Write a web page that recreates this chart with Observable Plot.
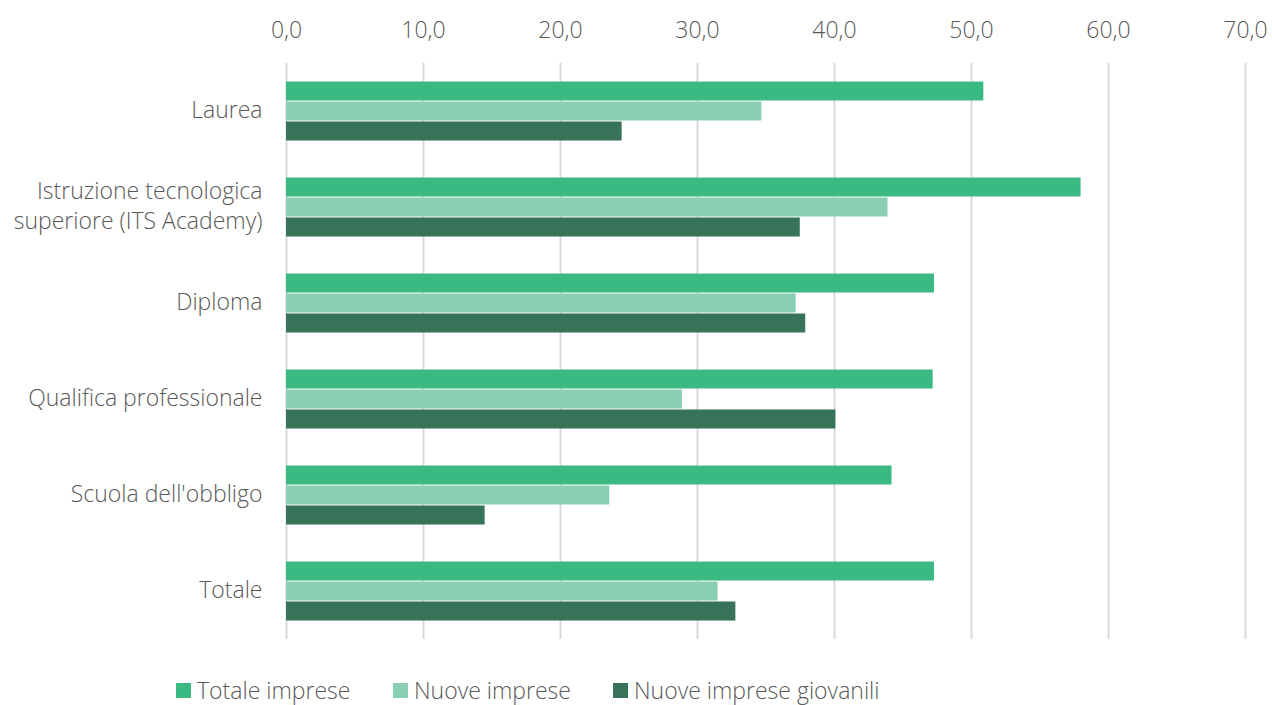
<!DOCTYPE html>
<html>
<head>
<meta charset="utf-8">
<script src="https://cdn.jsdelivr.net/npm/d3@7"></script>
<script src="https://cdn.jsdelivr.net/npm/@observablehq/plot@0.6"></script>
<style>
  body { margin: 0; background: #fff; font-family: "Open Sans", sans-serif; }
  #wrap { position: relative; width: 1272px; height: 705px; }
  #legend { position: absolute; left: 176px; top: 690px; font-size: 23px; color: #595959; font-weight: 300; }
  .item { display: flex; align-items: center; position: absolute; top: -16px; white-space: nowrap; }
  .sw { width: 15px; height: 15px; margin-right: 6px; }
</style>
</head>
<body>
<div id="wrap"><div id="chart"></div><div id="legend"></div></div>
<script>
const categories = ["Laurea", "Istruzione tecnologica superiore (ITS Academy)", "Diploma", "Qualifica professionale", "Scuola dell'obbligo", "Totale"];
const categoryLabels = ["Laurea", "Istruzione tecnologica\nsuperiore (ITS Academy)", "Diploma", "Qualifica professionale", "Scuola dell'obbligo", "Totale"];
const series = ["Totale imprese", "Nuove imprese", "Nuove imprese giovanili"];
const totaleImprese = [50.9, 58.0, 47.3, 47.2, 44.2, 47.3];
const nuoveImprese = [34.7, 43.9, 37.2, 28.9, 23.6, 31.5];
const nuoveImpreseGiovanili = [24.5, 37.5, 37.9, 40.1, 14.5, 32.8];
const xTicks = [0, 10, 20, 30, 40, 50, 60, 70];
const colors = ["#3ab983", "#88cfb4", "#377359"];
const legendLeft = [176, 393, 613];

const values = [totaleImprese, nuoveImprese, nuoveImpreseGiovanili];
const data = categories.flatMap((c, i) => series.map((s, j) => ({cat: c, s, v: values[j][i]})));
const fmt = d => d.toFixed(1).replace(".", ",");
const labelOf = d => categoryLabels[categories.indexOf(d)];

const chart = Plot.plot({
  width: 1272, height: 655,
  marginLeft: 286, marginRight: 27, marginTop: 62, marginBottom: 15,
  style: {fontFamily: "'Open Sans', sans-serif", fontSize: "20px", color: "#595959", background: "#fff", fontWeight: 300},
  x: {domain: [0, 70], label: null},
  fy: {domain: categories, padding: 0, label: null},
  y: {domain: series, axis: null, paddingInner: 0, paddingOuter: 0.9},
  color: {domain: series, range: colors},
  marks: [
    Plot.ruleX(xTicks, {x: d => d, stroke: "#d9d9d9", strokeWidth: 2}),
    Plot.barX(data, {x: "v", y: "s", fy: "cat", fill: "s", insetTop: 0.5, insetBottom: 0.5}),
    Plot.axisX({anchor: "top", ticks: xTicks, tickFormat: fmt, tickSize: 0, tickPadding: 26, label: null, fontSize: 23}),
    Plot.axisFy({anchor: "left", tickSize: 0, tickPadding: 24, label: null, tickFormat: labelOf, lineHeight: 1.32, fontSize: 23, dy: -3})
  ]
});
document.getElementById("chart").appendChild(chart);

const legend = document.getElementById("legend");
series.forEach((s, i) => {
  const it = document.createElement("div");
  it.className = "item";
  it.style.left = (legendLeft[i] - legendLeft[0]) + "px";
  it.innerHTML = `<div class="sw" style="background:${colors[i]}"></div><span>${s}</span>`;
  legend.appendChild(it);
});
</script>
</body>
</html>
